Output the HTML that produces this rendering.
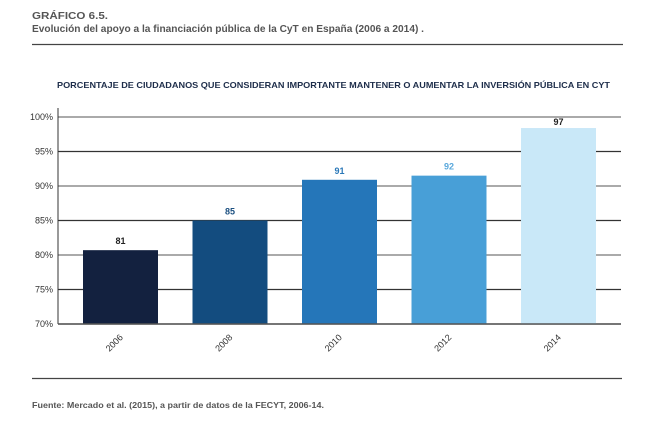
<!DOCTYPE html>
<html><head><meta charset="utf-8"><style>
html,body{margin:0;padding:0;background:#fff;width:657px;height:422px;overflow:hidden}
svg{display:block;font-family:"Liberation Sans",sans-serif}
</style></head><body>
<svg id="chart" width="657" height="422" viewBox="0 0 657 422">
<text x="32" y="19" font-size="10" fill="#555" font-weight="bold" textLength="76" lengthAdjust="spacingAndGlyphs">GRÁFICO 6.5.</text>
<text x="32" y="32" font-size="10" fill="#555" font-weight="bold" textLength="392" lengthAdjust="spacingAndGlyphs">Evolución del apoyo a la financiación pública de la CyT en España (2006 a 2014) .</text>
<line x1="32" y1="44.5" x2="623" y2="44.5" stroke="#444" stroke-width="1.2"/>
<text x="57" y="88" font-size="8.5" font-weight="bold" fill="#1d2d4a" textLength="553" lengthAdjust="spacingAndGlyphs">PORCENTAJE DE CIUDADANOS QUE CONSIDERAN IMPORTANTE MANTENER O AUMENTAR LA INVERSIÓN PÚBLICA EN CYT</text>
<g id="grid"></g><g id="bars"></g><g id="labels"></g>
<line x1="32" y1="378.5" x2="622" y2="378.5" stroke="#444" stroke-width="1.2"/>
<text x="32" y="408" font-size="8.5" font-weight="bold" fill="#555" textLength="292" lengthAdjust="spacingAndGlyphs">Fuente: Mercado et al. (2015), a partir de datos de la FECYT, 2006-14.</text>
</svg>
<script>
const categories = ["2006","2008","2010","2012","2014"];
const values = [80.7, 85, 90.9, 91.5, 98.4];
const valueLabels = ["81","85","91","92","97"];
const yTicks = [70,75,80,85,90,95,100];
const barColors = ["#13213f","#134c7f","#2576b9","#489fd7","#c9e8f8"];
const labelColors = ["#222","#1b4f80","#2a78b8","#5aa8dc","#222"];

const NS="http://www.w3.org/2000/svg";
const x0=58, x1=621, yTop=117, yBot=324, yMin=70, yMax=100;
const y = v => yBot - (v - yMin) / (yMax - yMin) * (yBot - yTop);
const step = 109.5, bw = 75, first = 83;
const xb = i => first + i * step;
function mk(t,a,p){const e=document.createElementNS(NS,t);for(const k in a)e.setAttribute(k,a[k]);p.appendChild(e);return e;}
const grid=document.getElementById('grid'), bars=document.getElementById('bars'), labels=document.getElementById('labels');
yTicks.forEach(t=>{
  const l=mk('line',{x1:x0,x2:x1,y1:y(t),y2:y(t),stroke:(t%10===0?'#777':'#333'),'stroke-width':1.2},grid);
  
  
  const tx=mk('text',{x:53,y:y(t)+3,'font-size':9,fill:'#333','text-anchor':'end'},grid);
  tx.textContent=t+'%';
  
  
});
const ax=mk('line',{x1:x0,x2:x0,y1:yTop-9,y2:yBot,stroke:'#333','stroke-width':1},grid);


categories.forEach((c,i)=>{
  const r=mk('rect',{x:xb(i),y:y(values[i]),width:bw,height:yBot-y(values[i]),fill:barColors[i]},bars);
  
  
  const v=mk('text',{x:xb(i)+bw/2,y:y(values[i])-(i===4?3:6),'font-size':9,'font-weight':'bold',fill:labelColors[i],'text-anchor':'middle'},labels);
  v.textContent=valueLabels[i];
  
  
  const cx=xb(i)+bw/2+3, cy=yBot+14;
  const t=mk('text',{x:cx,y:cy,'font-size':9,fill:'#333','text-anchor':'end',transform:`rotate(-45 ${cx} ${cy})`},labels);
  t.textContent=c;
  
  
});
const bl=mk('line',{x1:x0,x2:x1,y1:yBot,y2:yBot,stroke:'#555','stroke-width':1.5},labels);


</script>
</body></html>
